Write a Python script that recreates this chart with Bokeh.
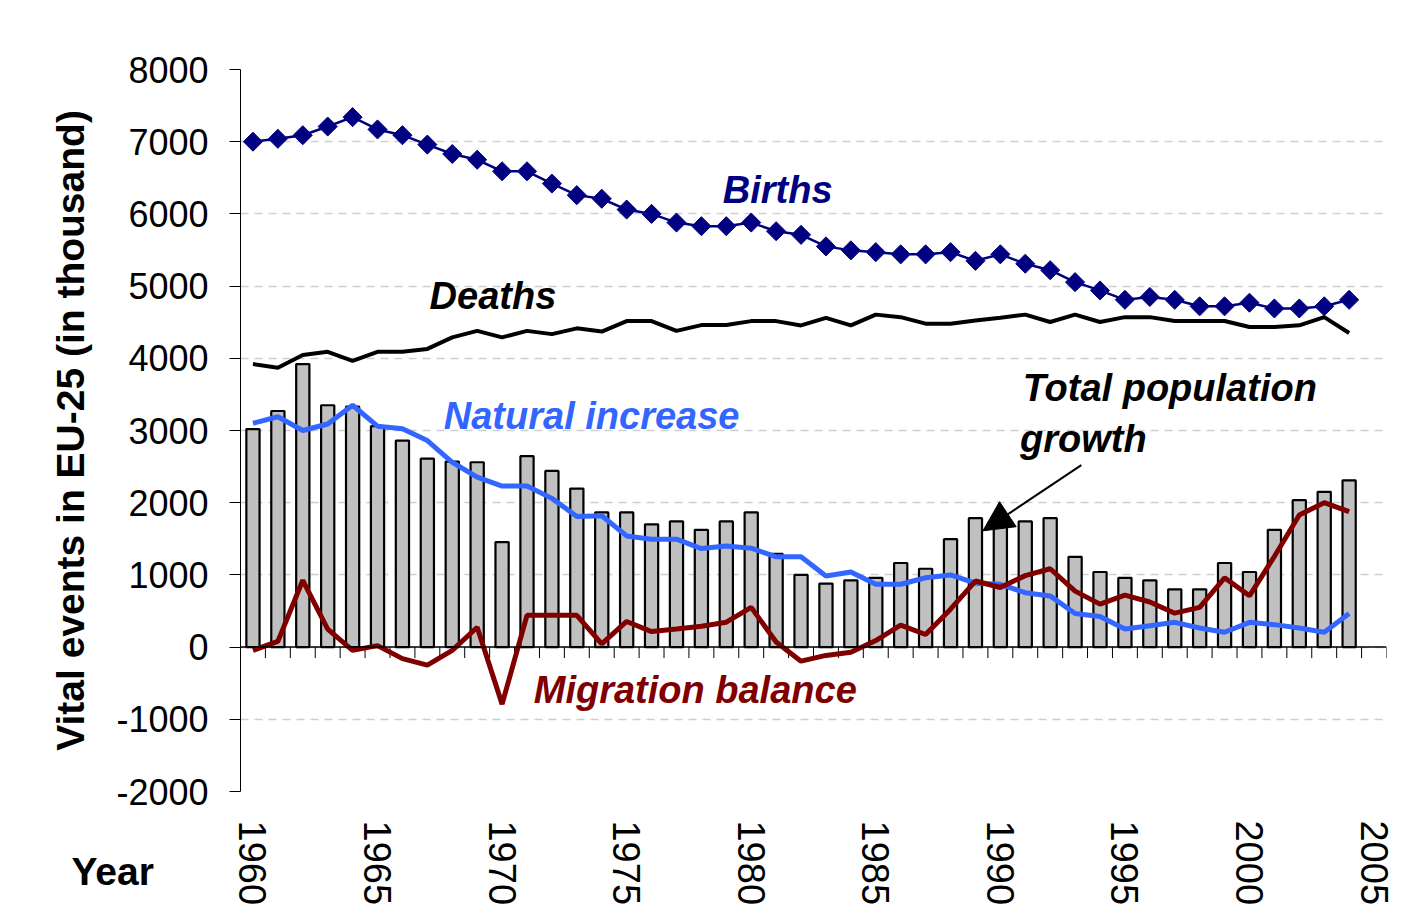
import math
from bokeh.plotting import figure
from bokeh.models import (Range1d, FixedTicker, Span, Label, Arrow, NormalHead,
                          NumeralTickFormatter, Title)
from bokeh.embed import file_html
from bokeh.resources import INLINE

years = list(range(1960, 2005))

births = [7000, 7040, 7090, 7210, 7340, 7170, 7090, 6960, 6830, 6750,
          6590, 6590, 6420, 6260, 6210, 6060, 6000, 5880, 5830, 5830,
          5880, 5760, 5710, 5550, 5495, 5470, 5440, 5440, 5470, 5350,
          5440, 5310, 5220, 5055, 4940, 4810, 4850, 4810, 4720, 4720,
          4770, 4690, 4690, 4720, 4810]

deaths = [3920, 3870, 4045, 4090, 3965, 4090, 4090, 4130, 4290, 4380,
          4290, 4380, 4335, 4415, 4370, 4515, 4515, 4380, 4460, 4460,
          4515, 4515, 4455, 4560, 4457, 4605, 4570, 4480, 4480, 4525,
          4563, 4605, 4503, 4605, 4503, 4570, 4570, 4517, 4517, 4517,
          4434, 4434, 4457, 4570, 4350]

natural = [3100, 3190, 3000, 3090, 3350, 3060, 3025, 2860, 2560, 2355,
           2230, 2230, 2060, 1810, 1820, 1540, 1495, 1495, 1365, 1400,
           1370, 1250, 1250, 985, 1040, 870, 870, 960, 1000, 885,
           869, 754, 709, 466, 425, 251, 297, 343, 265, 206,
           343, 311, 265, 206, 466]

migration = [-45, 80, 925, 250, -45, 20, -160, -250, -45, 275,
             -790, 440, 440, 440, 45, 355, 215, 250, 290, 345,
             550, 70, -195, -115, -70, 90, 305, 175, 525, 915,
             825, 990, 1085, 775, 595, 720, 625, 470, 550, 960,
             710, 1255, 1830, 2000, 1875]

total = [3020, 3270, 3920, 3350, 3330, 3060, 2860, 2610, 2570, 2560,
         1455, 2645, 2440, 2195, 1865, 1865, 1700, 1740, 1625, 1740,
         1865, 1290, 1000, 880, 925, 960, 1165, 1085, 1495, 1785,
         1740, 1740, 1785, 1250, 1040, 960, 925, 800, 800, 1165,
         1040, 1625, 2035, 2150, 2310]

y_ticks = [-2000, -1000, 0, 1000, 2000, 3000, 4000, 5000, 6000, 7000, 8000]
y_tick_labels = ["-2000", "-1000", "0", "1000", "2000", "3000", "4000",
                 "5000", "6000", "7000", "8000"]
x_tick_years = [1960, 1965, 1970, 1975, 1980, 1985, 1990, 1995, 2000, 2005]
x_tick_labels = ["1960", "1965", "1970", "1975", "1980", "1985", "1990",
                 "1995", "2000", "2005"]

FONT = "Liberation Sans"

p = figure(width=1403, height=908,
           x_range=Range1d(1959.5, 2005.5), y_range=Range1d(-2000, 8000),
           output_backend="svg", toolbar_location=None,
           min_border_left=240, min_border_right=17,
           min_border_top=69, min_border_bottom=117)
p.outline_line_color = None
p.background_fill_color = "white"
p.border_fill_color = "white"

# y axis
p.yaxis.ticker = FixedTicker(ticks=y_ticks)
p.yaxis.formatter = NumeralTickFormatter(format="0")
p.yaxis.major_label_overrides = {float(k): v for k, v in zip(y_ticks, y_tick_labels)}
p.yaxis.major_label_text_font = FONT
p.yaxis.major_label_text_font_size = "36px"
p.yaxis.major_label_text_color = "black"
p.yaxis.major_tick_out = 11
p.yaxis.major_tick_in = 0
p.yaxis.minor_tick_line_color = None
p.yaxis.axis_line_color = "black"
p.yaxis.major_tick_line_color = "black"
p.yaxis.major_label_standoff = 21
p.yaxis.axis_label = "Vital events in EU-25 (in thousand)"
p.yaxis.axis_label_text_font = FONT
p.yaxis.axis_label_text_font_style = "bold"
p.yaxis.axis_label_text_font_size = "39px"
p.yaxis.axis_label_text_color = "black"
p.yaxis.axis_label_standoff = 21

# x axis
xaxis = p.xaxis[0]
xaxis.ticker = FixedTicker(ticks=x_tick_years)
xaxis.major_label_overrides = dict(zip(x_tick_years, x_tick_labels))
xaxis.major_label_orientation = "vertical"
xaxis.major_label_text_font = FONT
xaxis.major_label_text_font_size = "38px"
xaxis.major_label_text_color = "black"
xaxis.axis_line_color = None
xaxis.major_tick_line_color = None
xaxis.minor_tick_line_color = None
xaxis.major_tick_out = 0
xaxis.major_tick_in = 0

# blank band below the frame so the "Year" caption sits level with the year labels
spacer = Title(text=" ", standoff=42, text_font_size="1px", text_color="white")

# "Year" caption: a title in the lower panel, shifted left under the value axis
year_title = Title(text="Year", align="left", offset=-169, standoff=22,
                   vertical_align="bottom", text_font=FONT,
                   text_font_style="bold", text_font_size="39px",
                   text_color="black")
p.add_layout(spacer, "below")
p.add_layout(year_title, "below")
p.below = [spacer, year_title, xaxis]
xaxis.major_label_standoff = -83

# grid
p.xgrid.grid_line_color = None
p.ygrid.ticker = FixedTicker(ticks=y_ticks)
p.ygrid.grid_line_color = "#cfcfcf"
p.ygrid.grid_line_dash = "8 6"
p.ygrid.grid_line_width = 1.5

# bars: total population growth
p.vbar(x=years, top=total, bottom=0, width=0.53,
       fill_color="#C0C0C0", line_color="black", line_width=2.2)

# category axis at zero
p.add_layout(Span(location=0, dimension="width", line_color="black", line_width=1.5))
bounds = [y + 0.5 for y in years] + [years[-1] + 1.5]
p.segment(x0=bounds, y0=[0] * len(bounds), x1=bounds, y1=[-152] * len(bounds),
          line_color="black", line_width=1)

# lines
p.line(years, deaths, line_color="black", line_width=4)
p.line(years, natural, line_color="#3366FF", line_width=5)
p.line(years, migration, line_color="#800000", line_width=5)
p.line(years, births, line_color="#000080", line_width=2.5)
p.scatter(years, births, marker="square", angle=math.pi / 4, size=13.5,
          fill_color="#000080", line_color="#000080")

# arrow
p.add_layout(Arrow(end=NormalHead(size=30, fill_color="black", line_color="black"),
                   x_start=1993.25, y_start=2520, x_end=1989.3, y_end=1610,
                   line_color="black", line_width=2))

def lab(x, y, text, color, style="bold italic", size="38px"):
    p.add_layout(Label(x=x, y=y, text=text, text_color=color, text_font=FONT,
                       text_font_style=style, text_font_size=size,
                       text_align="left", text_baseline="alphabetic"))

lab(1978.86, 6325, "Births", "#000080")
lab(1967.09, 4858, "Deaths", "black")
lab(1967.66, 3197, "Natural increase", "#3366FF")
lab(1971.27, -595, "Migration balance", "#800000")
lab(1990.9, 3584, "Total population", "black")
lab(1990.79, 2881, "growth", "black")

open("out.html", "w").write(file_html(p, INLINE))
